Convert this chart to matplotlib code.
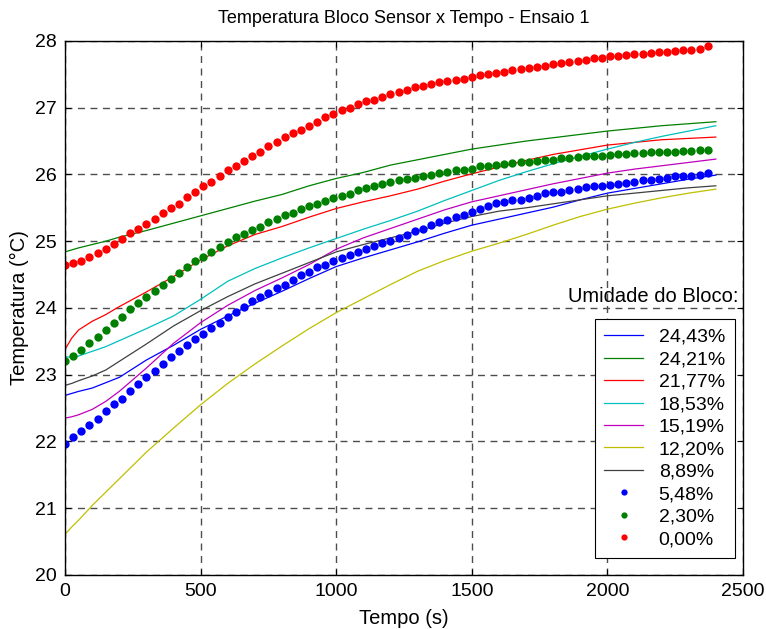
import matplotlib
matplotlib.use('Agg')
import matplotlib.pyplot as plt
import numpy as np

plt.rcParams['font.family'] = ['Liberation Sans', 'DejaVu Sans']

# sample times (s) for the continuous sensor curves
t_line = [0, 25, 50, 100, 150, 200, 300, 400, 500, 600, 700, 800, 900, 1000,
          1100, 1200, 1300, 1400, 1500, 1600, 1700, 1800, 1900, 2000, 2100,
          2200, 2300, 2400]

u2443 = [22.69, 22.72, 22.75, 22.80, 22.88, 22.96, 23.22, 23.44, 23.68, 23.88,
         24.07, 24.25, 24.44, 24.62, 24.75, 24.87, 24.99, 25.12, 25.24, 25.33,
         25.42, 25.51, 25.62, 25.72, 25.79, 25.86, 25.93, 25.99]
u2421 = [24.84, 24.87, 24.90, 24.95, 25.00, 25.06, 25.16, 25.27, 25.38, 25.49,
         25.60, 25.70, 25.83, 25.94, 26.03, 26.14, 26.22, 26.30, 26.38, 26.44,
         26.50, 26.55, 26.60, 26.65, 26.69, 26.73, 26.76, 26.79]
u2177 = [23.38, 23.55, 23.67, 23.80, 23.90, 24.02, 24.24, 24.47, 24.72, 24.93,
         25.10, 25.22, 25.36, 25.49, 25.59, 25.68, 25.78, 25.90, 26.01, 26.11,
         26.21, 26.30, 26.37, 26.44, 26.48, 26.52, 26.54, 26.56]
u1853 = [23.27, 23.26, 23.28, 23.35, 23.42, 23.51, 23.69, 23.88, 24.13, 24.40,
         24.59, 24.75, 24.90, 25.04, 25.18, 25.31, 25.45, 25.61, 25.76, 25.91,
         26.04, 26.16, 26.27, 26.38, 26.48, 26.57, 26.65, 26.73]
u1519 = [22.35, 22.37, 22.40, 22.48, 22.60, 22.75, 23.10, 23.47, 23.78, 24.04,
         24.26, 24.45, 24.65, 24.88, 25.05, 25.19, 25.33, 25.47, 25.59, 25.68,
         25.77, 25.86, 25.94, 26.02, 26.08, 26.13, 26.18, 26.23]
u1220 = [20.61, 20.72, 20.82, 21.04, 21.24, 21.44, 21.84, 22.20, 22.55, 22.87,
         23.16, 23.43, 23.69, 23.93, 24.14, 24.35, 24.55, 24.71, 24.85, 24.97,
         25.10, 25.24, 25.37, 25.48, 25.57, 25.65, 25.72, 25.78]
u0889 = [22.84, 22.87, 22.91, 22.98, 23.07, 23.20, 23.46, 23.73, 23.96, 24.17,
         24.36, 24.52, 24.68, 24.84, 24.95, 25.05, 25.15, 25.27, 25.37, 25.45,
         25.50, 25.56, 25.62, 25.68, 25.72, 25.76, 25.80, 25.83]

# dotted series, one reading every 30 s
t_dots = list(range(0, 2400, 30))

u0548 = [21.96, 22.06, 22.15, 22.25, 22.34, 22.46, 22.56, 22.64, 22.76, 22.86,
         22.97, 23.06, 23.16, 23.26, 23.35, 23.45, 23.53, 23.61, 23.70, 23.78,
         23.86, 23.94, 24.01, 24.10, 24.17, 24.23, 24.30, 24.35, 24.42, 24.49,
         24.54, 24.61, 24.65, 24.70, 24.75, 24.79, 24.84, 24.88, 24.93, 24.98,
         25.01, 25.05, 25.10, 25.15, 25.19, 25.24, 25.29, 25.32, 25.36, 25.39,
         25.44, 25.48, 25.52, 25.57, 25.58, 25.61, 25.62, 25.64, 25.67, 25.72,
         25.73, 25.74, 25.76, 25.78, 25.81, 25.82, 25.83, 25.84, 25.86, 25.87,
         25.89, 25.91, 25.92, 25.93, 25.94, 25.97, 25.97, 25.98, 25.99, 26.02]
u0230 = [23.21, 23.28, 23.37, 23.47, 23.56, 23.67, 23.77, 23.86, 23.98, 24.07,
         24.17, 24.26, 24.35, 24.44, 24.53, 24.61, 24.71, 24.77, 24.84, 24.91,
         24.99, 25.06, 25.11, 25.17, 25.22, 25.29, 25.34, 25.39, 25.43, 25.48,
         25.52, 25.56, 25.60, 25.64, 25.67, 25.71, 25.76, 25.79, 25.82, 25.86,
         25.88, 25.91, 25.93, 25.94, 25.97, 25.99, 26.02, 26.04, 26.06, 26.07,
         26.08, 26.12, 26.13, 26.14, 26.16, 26.17, 26.18, 26.19, 26.20, 26.21,
         26.22, 26.24, 26.25, 26.26, 26.27, 26.28, 26.28, 26.29, 26.30, 26.30,
         26.32, 26.32, 26.34, 26.34, 26.34, 26.34, 26.35, 26.35, 26.37, 26.37]
u0000 = [24.65, 24.68, 24.71, 24.77, 24.83, 24.89, 24.96, 25.03, 25.12, 25.19,
         25.26, 25.34, 25.43, 25.50, 25.56, 25.66, 25.73, 25.82, 25.89, 25.97,
         26.06, 26.13, 26.20, 26.27, 26.34, 26.42, 26.48, 26.56, 26.62, 26.67,
         26.73, 26.79, 26.86, 26.91, 26.96, 27.00, 27.05, 27.10, 27.12, 27.16,
         27.21, 27.23, 27.26, 27.31, 27.33, 27.35, 27.38, 27.40, 27.42, 27.43,
         27.46, 27.49, 27.51, 27.52, 27.54, 27.56, 27.58, 27.59, 27.61, 27.63,
         27.65, 27.67, 27.68, 27.70, 27.72, 27.74, 27.75, 27.77, 27.77, 27.79,
         27.80, 27.81, 27.82, 27.84, 27.83, 27.85, 27.86, 27.87, 27.88, 27.92]

lines = [
    (u2443, '24,43%', (0, 0, 1)),
    (u2421, '24,21%', (0, 0.5, 0)),
    (u2177, '21,77%', (1, 0, 0)),
    (u1853, '18,53%', (0, 0.75, 0.75)),
    (u1519, '15,19%', (0.75, 0, 0.75)),
    (u1220, '12,20%', (0.75, 0.75, 0)),
    (u0889, '8,89%', (0.25, 0.25, 0.25)),
]
dots = [
    (u0548, '5,48%', (0, 0, 1)),
    (u0230, '2,30%', (0, 0.5, 0)),
    (u0000, '0,00%', (1, 0, 0)),
]

fig = plt.figure(figsize=(7.66, 6.29), dpi=100)
ax = fig.add_axes([0.0849, 0.0859, 0.885, 0.849])

for vals, lab, col in lines:
    ax.plot(t_line, vals, color=col, lw=0.9, label=lab)
for vals, lab, col in dots:
    ax.plot(t_dots, vals, 'o', color=col, ms=6, mec='none', label=lab)

ax.set_xlim(0, 2500)
ax.set_ylim(20, 28)
ax.set_xticks(np.arange(0, 2501, 500))
ax.set_yticks(np.arange(20, 29, 1))
ax.grid(True, color='0.3', ls=(0, (5, 4)), lw=1.0)
ax.set_axisbelow(True)
ax.tick_params(direction='in', length=4, top=True, right=True, labelsize=14, pad=6)
for s in ax.spines.values():
    s.set_linewidth(1.0)

ax.set_title('Temperatura Bloco Sensor x Tempo - Ensaio 1', fontsize=13, pad=13)
ax.set_xlabel('Tempo (s)', fontsize=14.5, labelpad=6)
ax.set_ylabel('Temperatura (°C)', fontsize=14.5, labelpad=4)

ax.text(0.994, 0.521, 'Umidade do Bloco:', transform=ax.transAxes,
        ha='right', va='center', fontsize=14.5)

leg = ax.legend(loc='lower right', bbox_to_anchor=(0.988, 0.032), fontsize=14,
                frameon=True, fancybox=False, edgecolor='black', framealpha=1,
                borderpad=0.5, labelspacing=0.25, handlelength=2.0,
                handletextpad=0.8, borderaxespad=0, markerscale=0.75)
leg.get_frame().set_linewidth(0.8)

fig.savefig('out.png', dpi=100)
